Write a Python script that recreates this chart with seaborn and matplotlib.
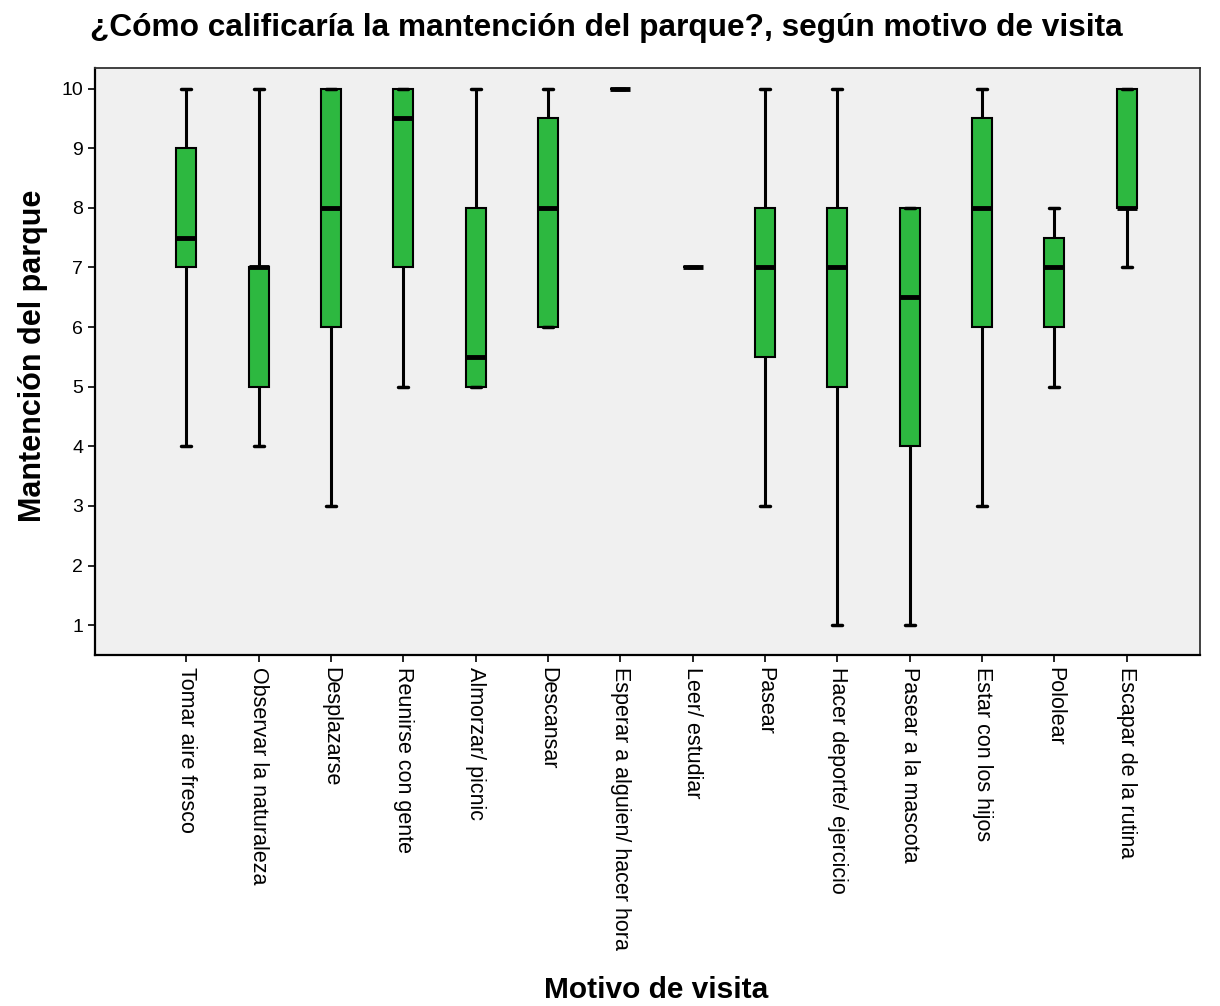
import pandas as pd
import matplotlib
matplotlib.use("Agg")
import matplotlib.pyplot as plt
import seaborn as sns

# Five-number summaries (min, Q1, median, Q3, max)
motivos = [
    "Tomar aire fresco", "Observar la naturaleza", "Desplazarse",
    "Reunirse con gente", "Almorzar/ picnic", "Descansar",
    "Esperar a alguien/ hacer hora", "Leer/ estudiar", "Pasear",
    "Hacer deporte/ ejercicio", "Pasear a la mascota", "Estar con los hijos",
    "Pololear", "Escapar de la rutina",
]
mins    = [4, 4, 3, 5, 5,   6, 10, 7, 3,   1, 1,   3, 5,   7]
q1s     = [7, 5, 6, 7, 5,   6, 10, 7, 5.5, 5, 4,   6, 6,   8]
medians = [7.5, 7, 8, 9.5, 5.5, 8, 10, 7, 7, 7, 6.5, 8, 7, 8]
q3s     = [9, 7, 10, 10, 8, 9.5, 10, 7, 8, 8, 8, 9.5, 7.5, 10]
maxs    = [10, 10, 10, 10, 10, 10, 10, 7, 10, 10, 8, 10, 8, 10]

rows = []
for i, m in enumerate(motivos):
    for v in (mins[i], q1s[i], medians[i], q3s[i], maxs[i]):
        rows.append({"motivo": m, "valor": v})
df = pd.DataFrame(rows)

sns.set_style("ticks")
plt.rcParams["font.family"] = ["Liberation Sans", "DejaVu Sans"]
plt.rcParams["text.color"] = "black"
plt.rcParams["axes.labelcolor"] = "black"

fig = plt.figure(figsize=(12.2, 10.06), dpi=100)
ax = fig.add_axes([0.078, 0.349, 0.906, 0.583])
ax.set_facecolor("#F0F0F0")

sns.boxplot(
    data=df, x="motivo", y="valor", order=motivos, whis=(0, 100),
    color="#2DB840", saturation=1, width=0.28, ax=ax,
    boxprops=dict(edgecolor="black", linewidth=1.5),
    medianprops=dict(color="black", linewidth=3.5),
    whiskerprops=dict(color="black", linewidth=2.2),
    capprops=dict(color="black", linewidth=2.5),
    showfliers=False,
)

ax.set_xlim(-1.26, 14.02)
ax.set_ylim(0.5, 10.34)
ax.set_yticks(range(1, 11))
ax.tick_params(axis="y", labelsize=14, length=5, width=1.2, colors="black")
ax.tick_params(axis="x", labelsize=15.5, length=5, width=1.2, colors="black")
plt.setp(ax.get_xticklabels(), rotation=-90, ha="center", va="top")

for side in ["left", "bottom"]:
    ax.spines[side].set_color("black")
    ax.spines[side].set_linewidth(1.6)
for side in ["top", "right"]:
    ax.spines[side].set_visible(True)
    ax.spines[side].set_color("#333333")
    ax.spines[side].set_linewidth(1.3)

ax.set_xlabel("")
ax.set_ylabel("Mantención del parque", fontsize=22, fontweight="bold")
ax.yaxis.set_label_coords(-0.043, 0.51)
fig.text(0.538, 0.016, "Motivo de visita", fontsize=21.5, fontweight="bold",
         ha="center", va="center")
fig.text(0.074, 0.972, "¿Cómo calificaría la mantención del parque?, según motivo de visita",
         fontsize=22.8, fontweight="bold", ha="left", va="center")

fig.savefig("out.png", dpi=100, facecolor="white")
